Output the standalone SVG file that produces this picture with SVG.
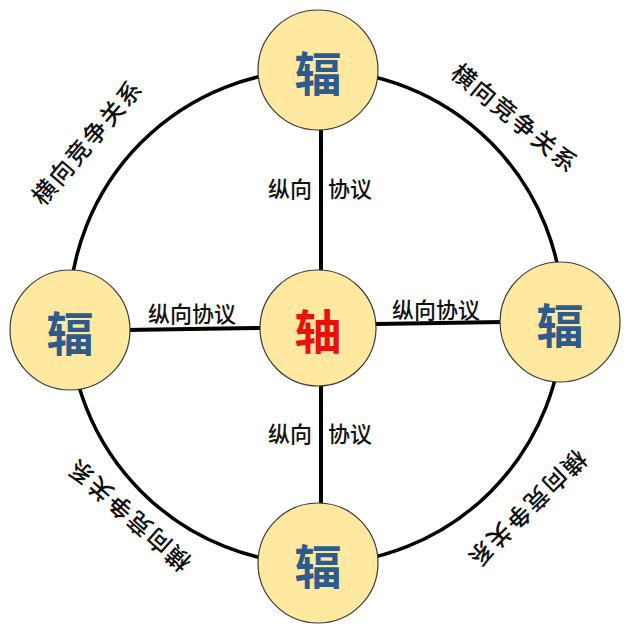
<svg xmlns="http://www.w3.org/2000/svg" width="640" height="640" viewBox="0 0 640 640">
<style>
.node{fill:#FFE8A0;stroke:#3a3a3a;stroke-width:1.2}
.big{font-family:"Noto Sans CJK SC",sans-serif;font-weight:bold;font-size:47px;text-anchor:middle;dominant-baseline:central}
.spoke{fill:#2F5B8C}
.hub{fill:#E8120C}
.lbl{font-family:"Noto Sans CJK SC",sans-serif;font-size:22px;font-weight:500;fill:#111;dominant-baseline:central}
.rel{font-family:"Noto Sans CJK SC",sans-serif;font-size:24px;font-weight:500;fill:#111;text-anchor:middle;dominant-baseline:central;letter-spacing:2px}
.ln{stroke:#000;stroke-width:4;fill:none}
</style>
<rect width="640" height="640" fill="#fff"/>
<g id="connectors">
<circle cx="316" cy="317" r="247" fill="none" stroke="#000" stroke-width="3.5"/>
<line class="ln" x1="321" y1="125" x2="321" y2="275"/>
<line class="ln" x1="321" y1="380" x2="321" y2="505"/>
<line class="ln" x1="125" y1="330" x2="262" y2="328"/>
<line class="ln" x1="375" y1="324" x2="503" y2="322"/>
</g>
<g id="labels">
<text class="lbl" x="268" y="187">纵向</text>
<text class="lbl" x="328" y="187">协议</text>
<text class="lbl" x="268" y="432">纵向</text>
<text class="lbl" x="328" y="432">协议</text>
<text class="lbl" x="148" y="312">纵向协议</text>
<text class="lbl" x="392" y="308">纵向协议</text>
<text class="rel" transform="translate(86,141) rotate(-49.4)">横向竞争关系</text>
<text class="rel" transform="translate(516,117) rotate(39.5)">横向竞争关系</text>
<text class="rel" transform="translate(528,510) rotate(135.6)">横向竞争关系</text>
<text class="rel" transform="translate(128,516) rotate(-138.4)">横向竞争关系</text>
</g>
<g id="node-top"><circle class="node" cx="318" cy="70" r="60"/><text class="big spoke" x="318" y="70">辐</text></g>
<g id="node-left"><circle class="node" cx="70" cy="330" r="60"/><text class="big spoke" x="70" y="330">辐</text></g>
<g id="node-right"><circle class="node" cx="560" cy="322" r="60"/><text class="big spoke" x="560" y="322">辐</text></g>
<g id="node-bottom"><circle class="node" cx="318" cy="563" r="60"/><text class="big spoke" x="318" y="563">辐</text></g>
<g id="node-center"><circle class="node" cx="318" cy="328" r="58"/><text class="big hub" x="318" y="328">轴</text></g>
</svg>
